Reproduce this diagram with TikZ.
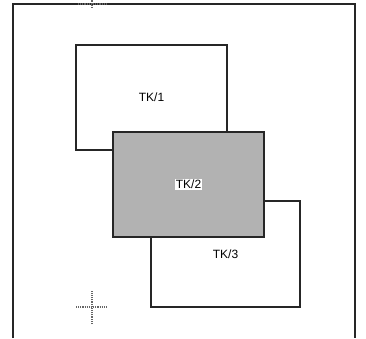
\documentclass[tikz,border=0pt]{standalone}
\usepackage{fontspec}
\setmainfont{Liberation Sans}
\tikzset{
        frame/.style={draw=black!85, line width=0.5mm},
        tkbox/.style={rectangle, draw=black!85, line width=0.45mm, fill=white, inner sep=0pt, font=\fontsize{12}{14}\selectfont},
        tkshade/.style={tkbox, fill=black!30},
        tklabel/.style={fill=white, inner sep=1pt, font=\fontsize{12}{14}\selectfont},
        regmark/.style={draw=black!60, line width=0.4mm, densely dotted}
          }
\begin{document}
\begin{tikzpicture}[x=1pt, y=-1pt]
        \useasboundingbox (0,0) rectangle (366,338);
        \draw[frame] (13,338) -- (13,4) -- (355,4) -- (355,338);
        \node[tkbox, minimum width=149pt, minimum height=106pt] (tk3) at (225.5,254) {TK/3};
        \node[tkbox, minimum width=151pt, minimum height=105pt] (tk1) at (151.5,97.5) {TK/1};
        \node[tkshade, minimum width=151pt, minimum height=105pt] (tk2) at (188.5,184.5) {};
        \node[tklabel] (tk2text) at (tk2.center) {TK/2};
        % registration marks
        \coordinate (topmark) at (92,4);
        \coordinate (botmark) at (92,307);
        \draw[regmark] ([xshift=-14pt]topmark) -- ([xshift=14pt]topmark);
        \draw[regmark] ([yshift=-4pt]topmark) -- ([yshift=13pt]topmark);
        \draw[regmark] ([xshift=-16pt]botmark) -- ([xshift=14pt]botmark);
        \draw[regmark] ([yshift=-17pt]botmark) -- ([yshift=16pt]botmark);
      \end{tikzpicture}
\end{document}
